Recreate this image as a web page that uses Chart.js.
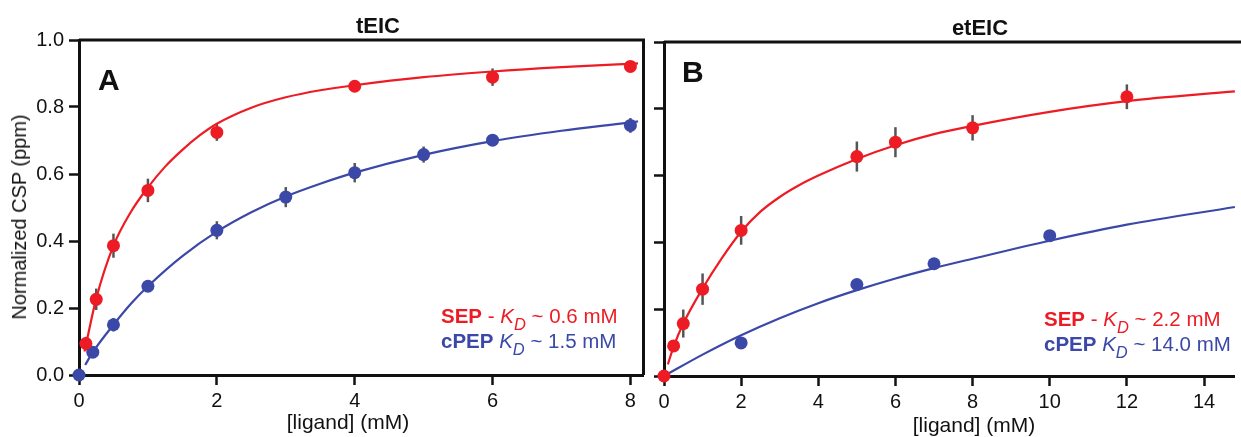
<!DOCTYPE html>
<html>
<head>
<meta charset="utf-8">
<script src="https://cdn.jsdelivr.net/npm/chart.js@4.4.1/dist/chart.umd.min.js"></script>
<style>
  body { margin: 0; background: #fff; }
  #wrap { position: relative; width: 1241px; height: 437px; font-family: "Liberation Sans", Arial, sans-serif; color: #111; }
  canvas { position: absolute; top: 0; }
  .lbl { position: absolute; white-space: nowrap; }
  .title { font-weight: bold; font-size: 22px; line-height: 22px; transform: translateX(-50%); }
  .panel { font-weight: bold; font-size: 30px; line-height: 30px; }
  .axis { font-size: 21px; line-height: 21px; transform: translate(-50%, -50%); }
  .yaxis { font-size: 20px; line-height: 20px; transform: translate(-50%, -50%) rotate(-90deg); }
  .kd { font-size: 20.5px; line-height: 20px; }
  .kd sub { font-size: 16.5px; font-style: italic; vertical-align: -7px; line-height: 0; }
  .red { color: #ed1c24; }
  .blue { color: #3b48a8; }
</style>
</head>
<body>
<div id="wrap">
  <canvas id="teic" width="650" height="437" style="left:0"></canvas>
  <canvas id="eteic" width="591" height="437" style="left:650px"></canvas>

  <div class="lbl title" style="left:378px; top:15px">tEIC</div>
  <div class="lbl title" style="left:980px; top:17px">etEIC</div>
  <div class="lbl panel" style="left:98px; top:65px">A</div>
  <div class="lbl panel" style="left:682px; top:57px">B</div>

  <div class="lbl yaxis" style="left:19px; top:217px">Normalized CSP (ppm)</div>
  <div class="lbl axis" style="left:348px; top:421px">[ligand] (mM)</div>
  <div class="lbl axis" style="left:974px; top:424px">[ligand] (mM)</div>

  <div class="lbl kd red" style="left:441px; top:306px"><b>SEP</b> - <i>K</i><sub>D</sub> ~ 0.6 mM</div>
  <div class="lbl kd blue" style="left:441px; top:331px"><b>cPEP</b> <i>K</i><sub>D</sub> ~ 1.5 mM</div>
  <div class="lbl kd red" style="left:1044px; top:309px"><b>SEP</b> - <i>K</i><sub>D</sub> ~ 2.2 mM</div>
  <div class="lbl kd blue" style="left:1044px; top:334px"><b>cPEP</b> <i>K</i><sub>D</sub> ~ 14.0 mM</div>
</div>

<script>
const RED = '#ed1c24';
const BLUE = '#3b48a8';
const FONT = '"Liberation Sans", Arial, sans-serif';

// tEIC titration (left panel)
const tSepX = [0.1, 0.25, 0.5, 1, 2, 4, 6, 8];
const tSepY = [0.094, 0.226, 0.386, 0.551, 0.724, 0.862, 0.889, 0.921];
const tSepErr = [0.02, 0.032, 0.036, 0.035, 0.025, 0.012, 0.026, 0.012];
const tPepX = [0, 0.2, 0.5, 1, 2, 3, 4, 5, 6, 8];
const tPepY = [0, 0.068, 0.15, 0.265, 0.432, 0.531, 0.604, 0.658, 0.701, 0.745];
const tPepErr = [0, 0.012, 0.02, 0.015, 0.027, 0.03, 0.029, 0.024, 0.017, 0.022];

// fitted binding curves, tEIC
const tSepFitX = [0.08, 0.25, 0.5, 0.75, 1, 1.25, 1.5, 1.75, 2, 2.5, 3, 3.5, 4, 5, 6, 7, 8, 8.11];
const tSepFitY = [0.07, 0.228, 0.386, 0.486, 0.56, 0.622, 0.672, 0.715, 0.75, 0.798, 0.829, 0.85, 0.865, 0.889, 0.906, 0.919, 0.929, 0.93];
const tPepFitX = [0.09, 0.2, 0.5, 0.75, 1, 1.5, 2, 2.5, 3, 3.5, 4, 5, 6, 7, 8, 8.11];
const tPepFitY = [0.03, 0.068, 0.15, 0.212, 0.265, 0.355, 0.428, 0.486, 0.533, 0.571, 0.604, 0.657, 0.698, 0.729, 0.754, 0.757];

// etEIC titration (right panel)
const eSepX = [0, 0.25, 0.5, 1, 2, 5, 6, 8, 12];
const eSepY = [0, 0.09, 0.157, 0.26, 0.436, 0.657, 0.7, 0.743, 0.836];
const eSepErr = [0, 0.01, 0.042, 0.047, 0.043, 0.045, 0.045, 0.038, 0.037];
const ePepX = [2, 5, 7, 10];
const ePepY = [0.099, 0.274, 0.336, 0.42];

// fitted binding curves, etEIC
const eSepFitX = [0.1, 0.25, 0.5, 1, 1.5, 2, 2.5, 3, 3.5, 4, 5, 6, 7, 8, 10, 12, 14.8];
const eSepFitY = [0.035, 0.088, 0.157, 0.262, 0.353, 0.432, 0.492, 0.536, 0.571, 0.6, 0.65, 0.691, 0.724, 0.749, 0.791, 0.823, 0.852];
const ePepFitX = [0, 1, 2, 3, 4, 5, 6, 7, 8, 10, 12, 14.8];
const ePepFitY = [0, 0.064, 0.122, 0.173, 0.218, 0.257, 0.292, 0.323, 0.351, 0.405, 0.453, 0.506];

const yTicks = [0, 0.2, 0.4, 0.6, 0.8, 1.0];

const toPoints = (xs, ys) => xs.map((x, i) => ({ x: x, y: ys[i] }));

// vertical error bars, drawn under the markers
const errorBarPlugin = {
    id: 'errorBars',
    beforeDatasetsDraw(chart) {
        const { ctx, scales: { x, y } } = chart;
        ctx.save();
        ctx.strokeStyle = '#555';
        ctx.lineWidth = 2.5;
        chart.data.datasets.forEach((ds) => {
            if (!ds.errorBars) return;
            ds.data.forEach((p, i) => {
                const e = ds.errorBars[i];
                if (!e) return;
                const px = x.getPixelForValue(p.x);
                ctx.beginPath();
                ctx.moveTo(px, y.getPixelForValue(p.y - e));
                ctx.lineTo(px, y.getPixelForValue(p.y + e));
                ctx.stroke();
            });
        });
        ctx.restore();
    }
};

// top / right edges of the plot box
const framePlugin = {
    id: 'frame',
    afterDraw(chart, args, opts) {
        const { ctx, chartArea: a } = chart;
        ctx.save();
        ctx.strokeStyle = '#111';
        ctx.lineWidth = 3;
        ctx.beginPath();
        ctx.moveTo(a.left, a.top);
        ctx.lineTo(a.right + (opts.right ? 0 : 10), a.top);
        if (opts.right) ctx.lineTo(a.right, a.bottom);
        ctx.stroke();
        ctx.restore();
    }
};

const curve = (xs, ys, color) => ({
    data: toPoints(xs, ys),
    showLine: true,
    pointRadius: 0,
    borderColor: color,
    borderWidth: 2.2,
    cubicInterpolationMode: 'monotone',
    clip: false
});

const markers = (xs, ys, errs, color) => ({
    data: toPoints(xs, ys),
    errorBars: errs,
    showLine: false,
    pointRadius: 6.5,
    pointBackgroundColor: color,
    pointBorderWidth: 0,
    clip: false
});

const axisStyle = {
    grid: { drawOnChartArea: false, drawTicks: true, tickLength: 10, tickWidth: 2.5, tickColor: '#111' },
    border: { display: true, width: 3, color: '#111' }
};

const makeChart = (canvasId, sets, xMax, xStep, pad, yWidth, xHeight, showYLabels, boxRight) => {
    return new Chart(document.getElementById(canvasId), {
        type: 'scatter',
        data: { datasets: sets },
        plugins: [errorBarPlugin, framePlugin],
        options: {
            responsive: false,
            animation: false,
            devicePixelRatio: 1,
            layout: { padding: pad },
            plugins: {
                legend: { display: false },
                tooltip: { enabled: false },
                frame: { right: boxRight }
            },
            scales: {
                x: {
                    type: 'linear',
                    min: 0,
                    max: xMax,
                    ...axisStyle,
                    afterBuildTicks: (s) => { s.ticks = s.ticks.filter((t) => t.value % xStep === 0); },
                    afterFit: (s) => { s.height = xHeight; },
                    ticks: { stepSize: xStep, includeBounds: false, padding: 4, color: '#111', font: { family: FONT, size: 20 } }
                },
                y: {
                    type: 'linear',
                    min: 0,
                    max: 1,
                    ...axisStyle,
                    afterBuildTicks: (s) => { s.ticks = yTicks.map((v) => ({ value: v })); },
                    afterFit: (s) => { s.width = yWidth; },
                    ticks: {
                        display: showYLabels,
                        padding: 5,
                        color: '#111',
                        font: { family: FONT, size: 20 },
                        callback: (v) => v.toFixed(1)
                    }
                }
            }
        }
    });
};

makeChart('teic', [
    markers(tSepX, tSepY, tSepErr, RED),
    markers(tPepX, tPepY, tPepErr, BLUE),
    curve(tSepFitX, tSepFitY, RED),
    curve(tPepFitX, tPepFitY, BLUE)
], 8.19, 2, { top: 40, right: 3, left: 0, bottom: 0 }, 79, 62, true, true);

makeChart('eteic', [
    markers(eSepX, eSepY, eSepErr, RED),
    markers(ePepX, ePepY, null, BLUE),
    curve(eSepFitX, eSepFitY, RED),
    curve(ePepFitX, ePepFitY, BLUE)
], 14.79, 2, { top: 42, right: 0, left: 0, bottom: 0 }, 14, 61, false, false);
</script>
</body>
</html>
